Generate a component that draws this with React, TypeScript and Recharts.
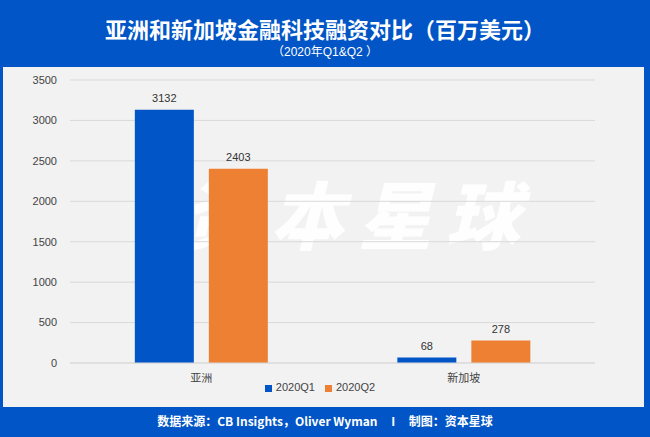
import { BarChart, Bar, XAxis, YAxis, CartesianGrid, Legend, LabelList } from "recharts";

const REGIONS = ["亚洲", "新加坡"];
const Q1_VALUES = [3132, 68];
const Q2_VALUES = [2403, 278];
const Y_TICKS = [0, 500, 1000, 1500, 2000, 2500, 3000, 3500];

const data = REGIONS.map((region, i) => ({
  region,
  q1: Q1_VALUES[i],
  q2: Q2_VALUES[i],
}));

const BLUE = "#0155c6";
const ORANGE = "#ee8033";
const FONT = "'Liberation Sans', 'Noto Sans CJK SC', sans-serif";

export default function App() {
  return (
    <div
      style={{
        position: "absolute",
        left: 0,
        top: 0,
        width: 650,
        height: 437,
        background: BLUE,
        fontFamily: FONT,
        overflow: "hidden",
      }}
    >
      <div
        style={{
          position: "absolute",
          top: 12,
          width: "100%",
          textAlign: "center",
          color: "#fff",
          fontSize: 22,
          fontWeight: 700,
          fontFamily: "'Noto Sans CJK SC', sans-serif",
          lineHeight: "32px",
        }}
      >
        亚洲和新加坡金融科技融资对比（百万美元）
      </div>
      <div
        style={{
          position: "absolute",
          top: 43,
          width: "100%",
          textAlign: "center",
          color: "#fff",
          fontSize: 12,
          lineHeight: "18px",
          fontFamily: FONT,
        }}
      >
        （2020年Q1&amp;Q2 ）
      </div>

      <div
        style={{
          position: "absolute",
          left: 3,
          top: 67,
          width: 641,
          height: 340,
          background: "#f2f2f2",
        }}
      />
      {/* watermark, sits under the bars */}
      <div
        style={{
          position: "absolute",
          left: 178,
          top: 176,
          width: 360,
          textAlign: "center",
          color: "rgba(255,255,255,0.9)",
          fontSize: 74,
          fontWeight: 900,
          fontStyle: "italic",
          letterSpacing: 14,
          lineHeight: "72px",
          fontFamily: "'Noto Sans CJK SC', sans-serif",
        }}
      >
        资本星球
      </div>

      <div style={{ position: "absolute", left: 0, top: 67 }}>
        <BarChart
          width={650}
          height={340}
          data={data}
          margin={{ top: 13, right: 55, left: 0, bottom: 2 }}
          barGap={15}
          barCategoryGap="24.7%"
        >
          <CartesianGrid vertical={false} stroke="#d9d9d9" />
          <XAxis
            dataKey="region"
            axisLine={{ stroke: "#d9d9d9" }}
            tickLine={false}
            tickMargin={5}
            tick={{ fill: "#444", fontSize: 11, fontFamily: "'Noto Sans CJK SC', sans-serif" }}
          />
          <YAxis
            width={70}
            domain={[0, 3500]}
            ticks={Y_TICKS}
            axisLine={false}
            tickLine={false}
            tickMargin={7}
            tick={{ fill: "#444", fontSize: 11 }}
          />
          <Legend
            verticalAlign="bottom"
            iconType="square"
            iconSize={7}
            wrapperStyle={{ fontSize: 11, bottom: 14, left: 0, width: 650 }}
            formatter={(v) => <span style={{ color: "#444" }}>{v}</span>}
          />
          <Bar dataKey="q1" name="2020Q1" fill={BLUE} isAnimationActive={false}>
            <LabelList dataKey="q1" position="top" offset={8} fill="#333" fontSize={11} />
          </Bar>
          <Bar dataKey="q2" name="2020Q2" fill={ORANGE} isAnimationActive={false}>
            <LabelList dataKey="q2" position="top" offset={8} fill="#333" fontSize={11} />
          </Bar>
        </BarChart>
      </div>

      <div
        style={{
          position: "absolute",
          top: 411,
          width: "100%",
          textAlign: "center",
          color: "#fff",
          fontSize: 12,
          fontWeight: 700,
          lineHeight: "20px",
          whiteSpace: "pre",
          fontFamily: "'Noto Sans CJK SC', sans-serif",
        }}
      >
        {"数据来源：CB Insights，Oliver Wyman     I     制图：资本星球"}
      </div>
    </div>
  );
}
